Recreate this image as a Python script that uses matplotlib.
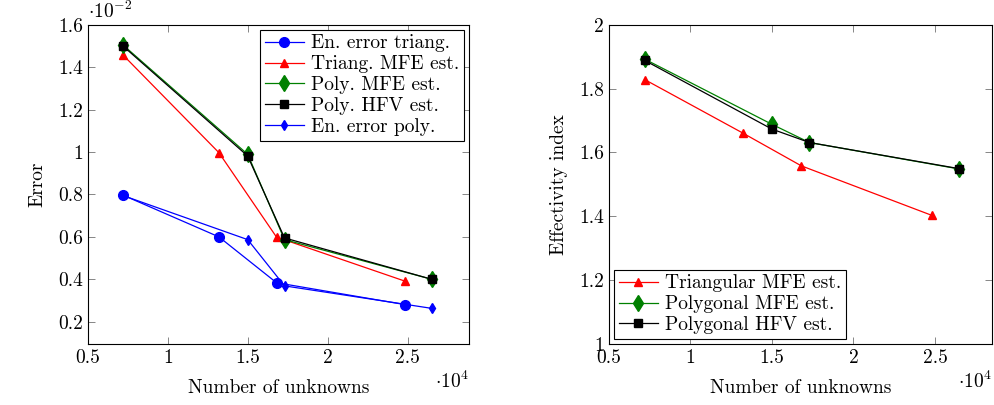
import numpy as np
import matplotlib
matplotlib.use('Agg')
import matplotlib.pyplot as plt
import matplotlib.ticker as ticker

plt.rcParams['font.family'] = 'serif'
plt.rcParams['font.serif'] = ['cmr10', 'DejaVu Serif']
plt.rcParams['mathtext.fontset'] = 'cm'
plt.rcParams['axes.unicode_minus'] = False
plt.rcParams['font.size'] = 14

# unknowns (x 1e4)
x_tri = [0.72, 1.32, 1.68, 2.48]
x_poly = [0.72, 1.50, 1.73, 2.65]

# left panel: error (x 1e-2)
err_tri = [0.797, 0.600, 0.384, 0.281]
mfe_tri = [1.458, 0.997, 0.599, 0.392]
mfe_poly = [1.505, 0.989, 0.587, 0.400]
hfv_poly = [1.500, 0.981, 0.595, 0.400]
err_poly = [0.795, 0.587, 0.369, 0.263]

# right panel: effectivity index
eff_tri = [1.828, 1.661, 1.558, 1.403]
eff_mfe_poly = [1.892, 1.688, 1.631, 1.548]
eff_hfv_poly = [1.888, 1.673, 1.631, 1.549]

fig = plt.figure(figsize=(9.95, 4.05), dpi=100)
ax1 = fig.add_axes([0.0881, 0.1506, 0.3836, 0.7884])
ax2 = fig.add_axes([0.612, 0.1506, 0.3847, 0.7884])

lw = 0.9
ax1.plot(x_tri, err_tri, color='blue', marker='o', ms=7, lw=lw, label='En. error triang.')
ax1.plot(x_tri, mfe_tri, color='red', marker='^', ms=6, lw=lw, label='Triang. MFE est.')
ax1.plot(x_poly, mfe_poly, color='green', marker='d', ms=8, lw=lw, label='Poly. MFE est.')
ax1.plot(x_poly, hfv_poly, color='black', marker='s', ms=6, lw=lw, label='Poly. HFV est.')
ax1.plot(x_poly, err_poly, color='blue', marker='d', ms=5.5, lw=lw, label='En. error poly.')
ax1.set_xlim(0.5, 2.885)
ax1.set_ylim(0.095, 1.6)
ax1.set_xticks([0.5, 1, 1.5, 2, 2.5])
ax1.set_yticks([0.2, 0.4, 0.6, 0.8, 1.0, 1.2, 1.4, 1.6])
ax1.set_xlabel('Number of unknowns', labelpad=9)
ax1.set_ylabel('Error', labelpad=8)
ax1.text(0.0, 1.01, r'$\cdot 10^{-2}$', transform=ax1.transAxes, ha='left', va='bottom', fontsize=14)
ax1.text(1.0, -0.085, r'$\cdot 10^{4}$', transform=ax1.transAxes, ha='right', va='top', fontsize=14)
leg1 = ax1.legend(loc='upper right', fancybox=False, edgecolor='black', framealpha=1,
                  borderaxespad=0.25, handlelength=2.0, handletextpad=0.4,
                  labelspacing=0.15, borderpad=0.25)
leg1.get_frame().set_linewidth(0.8)

ax2.plot(x_tri, eff_tri, color='red', marker='^', ms=6, lw=lw, label='Triangular MFE est.')
ax2.plot(x_poly, eff_mfe_poly, color='green', marker='d', ms=8, lw=lw, label='Polygonal MFE est.')
ax2.plot(x_poly, eff_hfv_poly, color='black', marker='s', ms=6, lw=lw, label='Polygonal HFV est.')
ax2.set_xlim(0.5, 2.848)
ax2.set_ylim(1, 2)
ax2.set_xticks([0.5, 1, 1.5, 2, 2.5])
ax2.set_yticks([1, 1.2, 1.4, 1.6, 1.8, 2])
ax2.set_xlabel('Number of unknowns', labelpad=9)
ax2.set_ylabel('Effectivity index', labelpad=8)
ax2.text(1.0, -0.085, r'$\cdot 10^{4}$', transform=ax2.transAxes, ha='right', va='top', fontsize=14)
leg2 = ax2.legend(loc='lower left', fancybox=False, edgecolor='black', framealpha=1,
                  borderaxespad=0.25, handlelength=2.0, handletextpad=0.4,
                  labelspacing=0.15, borderpad=0.25)
leg2.get_frame().set_linewidth(0.8)

fmt = ticker.FuncFormatter(lambda v, p: '%g' % v)
for ax in (ax1, ax2):
    ax.xaxis.set_major_formatter(fmt)
    ax.yaxis.set_major_formatter(fmt)
    ax.tick_params(direction='in', top=True, right=True, length=5, width=0.6, color='0.45')
    for s in ax.spines.values():
        s.set_linewidth(0.8)

fig.savefig('out.png', dpi=100)
